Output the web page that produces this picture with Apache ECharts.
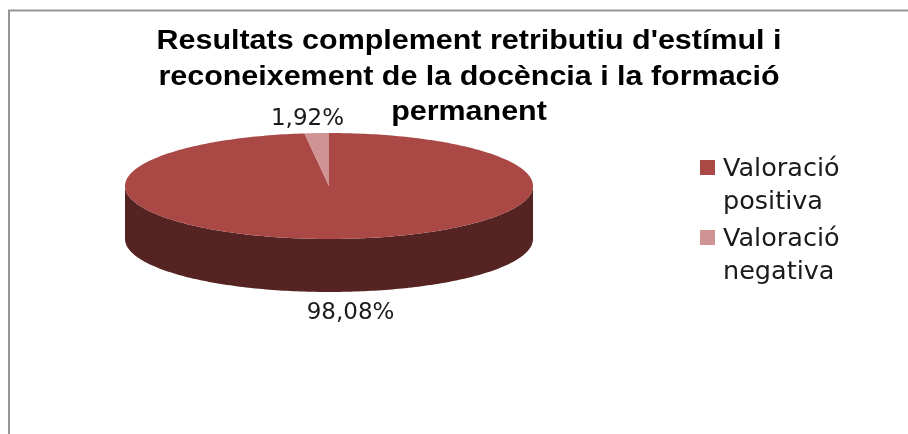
<!DOCTYPE html>
<html>
<head>
<meta charset="utf-8">
<style>
  html, body { margin: 0; padding: 0; background: #fff; }
  #chart { width: 908px; height: 434px; }
</style>
<script src="https://cdn.jsdelivr.net/npm/echarts@6/dist/echarts.min.js"></script>
</head>
<body>
<div id="chart"></div>
<script>
var titleText = "Resultats complement retributiu d'estímul i\nreconeixement de la docència i la formació\npermanent";
var categories = ['Valoració positiva', 'Valoració negativa'];
var values = [98.08, 1.92];
var colors = ['#A94845', '#D09393'];
var sideColor = '#552322';

var cx = 329, cy = 186, rx = 204, ry = 53, depth = 53;
var total = values.reduce(function (a, b) { return a + b; }, 0);

function pt(deg, dy) {
  var r = deg * Math.PI / 180;
  return [cx + rx * Math.sin(r), cy - ry * Math.cos(r) + (dy || 0)];
}

function arc(from, to, dy) {
  var pts = [];
  for (var a = from; a < to; a += 1) pts.push(pt(a, dy));
  pts.push(pt(to, dy));
  return pts;
}

function makeRender(index) {
  return function (params, api) {
    var start = 0;
    for (var i = 0; i < index; i++) start += values[i] / total * 360;
    var sweep = api.value(0) / total * 360;
    var end = start + sweep;
    var mid = (start + end) / 2;
    var children = [];

    // front wall, only where the slice faces the viewer (90..270 deg)
    var f0 = Math.max(start, 90), f1 = Math.min(end, 270);
    if (f1 > f0) {
      children.push({
        type: 'polygon',
        shape: { points: arc(f0, f1, 0).concat(arc(f0, f1, depth).reverse()) },
        style: { fill: sideColor }
      });
    }

    children.push({
      type: 'polygon',
      shape: { points: [[cx, cy]].concat(arc(start, end, 0)) },
      style: { fill: colors[index] }
    });

    var front = Math.cos(mid * Math.PI / 180) < 0;
    var lp = pt(mid);
    children.push({
      type: 'text',
      x: cx + (lp[0] - cx) * 1.75,
      y: front ? lp[1] + depth + 21 : lp[1] - 14,
      style: {
        text: api.value(0).toFixed(2).replace('.', ',') + '%',
        fill: '#1a1a1a',
        font: '23px "DejaVu Sans"',
        align: 'center',
        verticalAlign: 'middle'
      }
    });
    return { type: 'group', children: children };
  };
}

var series = categories.map(function (name, i) {
  return {
    name: name,
    type: 'custom',
    coordinateSystem: 'none',
    silent: true,
    animation: false,
    itemStyle: { color: colors[i] },
    data: [[values[i]]],
    renderItem: makeRender(i)
  };
});

var eCharts = echarts.init(document.getElementById('chart'));
eCharts.setOption({
  animation: false,
  backgroundColor: '#fff',
  legend: {
    orient: 'vertical',
    left: 700,
    top: 153,
    padding: 0,
    // square sits on the first text line, the empty part of the box spans both lines
    icon: 'path://M0 0L0 0M0 7H15V22H0ZM15 66L15 66',
    itemWidth: 15,
    itemHeight: 66,
    itemGap: 4,
    selectedMode: false,
    data: categories,
    formatter: function (name) { return name.replace(' ', '\n'); },
    textStyle: {
      fontFamily: 'DejaVu Sans',
      fontSize: 25.5,
      lineHeight: 33,
      color: '#1a1a1a',
      padding: [0, 0, 0, 3]
    }
  },
  graphic: [{
    type: 'polyline',
    silent: true,
    shape: { points: [[9, 434], [9, 10.5], [908, 10.5]] },
    style: { stroke: '#969696', lineWidth: 2, fill: null }
  }, {
    type: 'text',
    silent: true,
    x: 469,
    y: 24,
    scaleX: 1.128,
    style: {
      text: titleText,
      font: 'bold 27px "Liberation Sans"',
      lineHeight: 35.5,
      fill: '#000',
      align: 'center'
    }
  }],
  series: series
});
</script>
</body>
</html>
